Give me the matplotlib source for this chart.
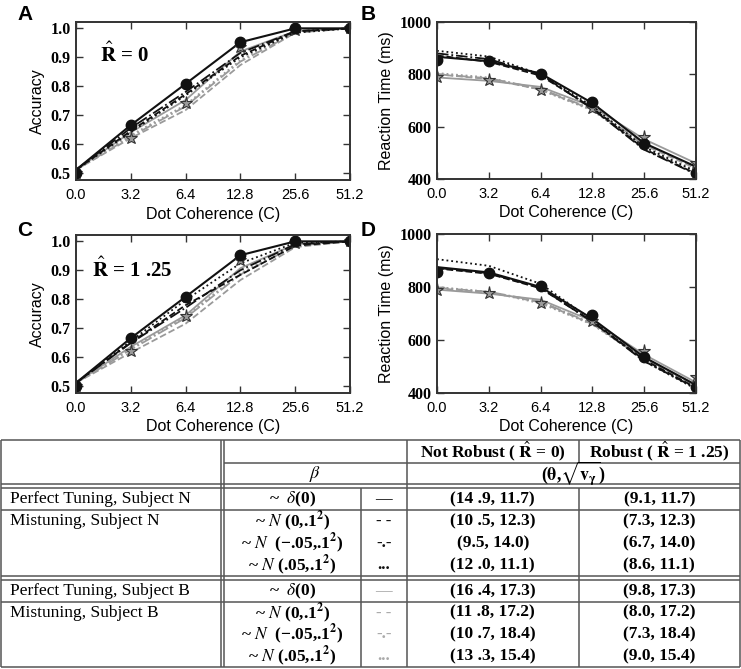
import matplotlib
matplotlib.use("Agg")
import matplotlib.pyplot as plt

plt.rcParams["mathtext.fontset"] = "stix"

W, H = 741, 669
SERIF = "Liberation Serif"
SANS = "Liberation Sans"

coherence = ["0.0", "3.2", "6.4", "12.8", "25.6", "51.2"]

# observed behaviour (markers)
acc_data_n = [0.50, 0.665, 0.808, 0.952, 1.00, 1.00]
acc_data_b = [0.50, 0.62, 0.74, 0.935, 0.995, 1.00]
rt_data_n = [855, 852, 803, 695, 535, 422]
rt_data_b = [790, 777, 740, 670, 560, 460]

# model curves, order: perfect, N(0,.1^2), N(-.05,.1^2), N(.05,.1^2)
acc_r0_n = [
    [0.51, 0.665, 0.808, 0.952, 1.00, 1.00],
    [0.51, 0.645, 0.772, 0.905, 0.99, 1.00],
    [0.51, 0.655, 0.78, 0.915, 0.99, 1.00],
    [0.51, 0.64, 0.768, 0.90, 0.985, 1.00],
]
acc_r0_b = [
    [0.51, 0.64, 0.752, 0.92, 0.99, 1.00],
    [0.51, 0.62, 0.717, 0.873, 0.985, 1.00],
    [0.51, 0.625, 0.73, 0.885, 0.985, 1.00],
    [0.51, 0.63, 0.735, 0.89, 0.99, 1.00],
]
acc_r125_n = [
    [0.51, 0.665, 0.808, 0.952, 1.00, 1.00],
    [0.51, 0.65, 0.779, 0.884, 0.985, 1.00],
    [0.51, 0.648, 0.77, 0.90, 0.99, 1.00],
    [0.51, 0.655, 0.797, 0.924, 0.995, 1.00],
]
acc_r125_b = [
    [0.51, 0.635, 0.744, 0.907, 0.99, 1.00],
    [0.51, 0.615, 0.715, 0.866, 0.98, 1.00],
    [0.51, 0.625, 0.735, 0.885, 0.985, 1.00],
    [0.51, 0.63, 0.74, 0.89, 0.99, 1.00],
]
rt_r0_n = [
    [867, 850, 803, 690, 537, 447],
    [872, 848, 795, 672, 515, 420],
    [880, 858, 800, 668, 512, 418],
    [890, 868, 800, 678, 522, 428],
]
rt_r0_b = [
    [788, 775, 752, 677, 552, 460],
    [800, 782, 742, 665, 530, 440],
    [800, 785, 745, 667, 535, 445],
    [805, 788, 740, 662, 522, 432],
]
rt_r125_n = [
    [875, 855, 800, 680, 535, 430],
    [870, 850, 795, 670, 525, 420],
    [872, 852, 797, 668, 520, 418],
    [905, 880, 812, 675, 520, 415],
]
rt_r125_b = [
    [790, 775, 752, 672, 545, 440],
    [795, 780, 742, 660, 530, 428],
    [797, 782, 745, 662, 532, 430],
    [800, 782, 738, 658, 528, 425],
]

line_styles = ["-", "--", "-.", ":"]
BLACK = "#111111"
GRAY = "#9a9a9a"

# table contents
row_labels = ["Perfect Tuning, Subject N", "Mistuning, Subject N", "", "",
              "Perfect Tuning, Subject B", "Mistuning, Subject B", "", ""]
beta_labels = [
    r"~  $\delta$(0)",
    r"~ $N$ (0,.1$^\mathbf{2}$)",
    r"~ $N$  (−.05,.1$^\mathbf{2}$)",
    r"~ $N$ (.05,.1$^\mathbf{2}$)",
] * 2
style_marks = ["—", "- -", "-.-", "..."] * 2
not_robust = ["(14 .9, 11.7)", "(10 .5, 12.3)", "(9.5, 14.0)", "(12 .0, 11.1)",
              "(16 .4, 17.3)", "(11 .8, 17.2)", "(10 .7, 18.4)", "(13 .3, 15.4)"]
robust = ["(9.1, 11.7)", "(7.3, 12.3)", "(6.7, 14.0)", "(8.6, 11.1)",
          "(9.8, 17.3)", "(8.0, 17.2)", "(7.3, 18.4)", "(9.0, 15.4)"]


def px_axes(fig, left, top, right, bottom):
    return fig.add_axes([left / W, 1 - bottom / H, (right - left) / W,
                         (bottom - top) / H])


def panel(ax, curves_n, curves_b, data_n, data_b, ylim, yticks, ylabel):
    x = range(len(coherence))
    for curve, ls in zip(curves_b, line_styles):
        ax.plot(x, curve, color=GRAY, ls=ls, lw=1.3, zorder=2)
    for curve, ls in zip(curves_n, line_styles):
        ax.plot(x, curve, color=BLACK, ls=ls, lw=1.3 if ls != "-" else 1.5,
                zorder=3)
    dots, = ax.plot(x, data_n, ls="none", marker="o", ms=7.5, color=BLACK,
                    zorder=5)
    stars, = ax.plot(x, data_b, ls="none", marker="*", ms=9.5, mfc=GRAY,
                     mec="#333333", mew=0.8, zorder=4)
    # markers sitting on the frame are cut by it, as in the original
    for mk in (dots, stars):
        mk.set_clip_path(ax.patch)
    ax.set_xlim(0, len(coherence) - 1)
    ax.set_ylim(*ylim)
    ax.set_xticks(list(x))
    ax.set_xticklabels(coherence, fontfamily=SANS, fontsize=10.5)
    ax.set_yticks(yticks)
    ax.set_yticklabels([f"{t:g}" if t >= 100 else f"{t:.1f}" for t in yticks],
                       fontfamily=SERIF, fontweight="bold", fontsize=11.5)
    ax.tick_params(direction="in", top=True, right=True, length=5, width=1,
                   color="#333333")
    ax.tick_params(axis="x", pad=6)
    ax.tick_params(axis="y", pad=4)
    for sp in ax.spines.values():
        sp.set_linewidth(1.4)
        sp.set_color("#333333")
        sp.set_zorder(6)
    ax.set_xlabel("Dot Coherence (C)", fontfamily=SANS, fontsize=11.5,
                  labelpad=3)
    ax.set_ylabel(ylabel, fontfamily=SANS, fontsize=11.5, labelpad=4)


fig = plt.figure(figsize=(W / 100, H / 100), dpi=100)

acc_ticks = [0.5, 0.6, 0.7, 0.8, 0.9, 1.0]
rt_ticks = [400, 600, 800, 1000]

ax_a = px_axes(fig, 76, 22, 350, 180)
panel(ax_a, acc_r0_n, acc_r0_b, acc_data_n, acc_data_b, (0.475, 1.022),
      acc_ticks, "Accuracy")
ax_b = px_axes(fig, 437, 22, 696, 179)
panel(ax_b, rt_r0_n, rt_r0_b, rt_data_n, rt_data_b, (400, 1000), rt_ticks,
      "Reaction Time (ms)")
ax_c = px_axes(fig, 76, 235, 350, 393)
panel(ax_c, acc_r125_n, acc_r125_b, acc_data_n, acc_data_b, (0.475, 1.022),
      acc_ticks, "Accuracy")
ax_d = px_axes(fig, 437, 234, 696, 393)
panel(ax_d, rt_r125_n, rt_r125_b, rt_data_n, rt_data_b, (400, 1000), rt_ticks,
      "Reaction Time (ms)")

ax_a.text(0.088, 0.79, r"$\hat{\mathbf{R}}$ = 0", transform=ax_a.transAxes,
          fontfamily=SERIF, fontweight="bold", fontsize=15, va="center")
ax_c.text(0.058, 0.78, r"$\hat{\mathbf{R}}$ = 1 .25", transform=ax_c.transAxes,
          fontfamily=SERIF, fontweight="bold", fontsize=15, va="center")

for letter, (lx, ly) in zip("ABCD", [(17, 14), (361, 14), (17, 231), (361, 231)]):
    fig.text(lx / W, 1 - ly / H, letter, fontfamily=SANS, fontweight="bold",
             fontsize=15, va="center", ha="left")

# ---- table ----
tab = fig.add_axes([0, 0, 1, 1])
tab.set_xlim(0, W)
tab.set_ylim(H, 0)
tab.axis("off")
LC = "#555555"
x_left, x_d1, x_d2, x_sty, x_nr, x_rb, x_right = 1, 220.5, 223.5, 361, 406.5, 579, 739.5
y_top, y_h1, y_h2, y_b1, y_end = 440, 463, 484, 488, 667

block_n = [488, 510, 532, 554, 576]
block_b = [580, 602, 623.7, 645.3, 667]

for y in [y_top, y_h2, y_b1, 510, 576, 580, 602, y_end]:
    tab.hlines(y, x_left, x_right, color=LC, lw=1.1)
tab.hlines(y_h1, x_d2, x_right, color=LC, lw=1.1)
for x in [x_left, x_d1, x_d2, x_nr, x_right]:
    tab.vlines(x, y_top, y_end, color=LC, lw=1.1)
tab.vlines(x_rb, y_top, y_h1, color=LC, lw=1.1)
tab.vlines(x_rb, y_b1, y_end, color=LC, lw=1.1)
tab.vlines(x_sty, y_b1, y_end, color=LC, lw=1.1)

hdr = dict(fontfamily=SERIF, fontweight="bold", fontsize=12.5, ha="center",
           va="center")
tab.text((x_nr + x_rb) / 2, (y_top + y_h1) / 2,
         r"Not Robust ( $\hat{\mathbf{R}}$ = 0)", **hdr)
tab.text((x_rb + x_right) / 2, (y_top + y_h1) / 2,
         r"Robust ( $\hat{\mathbf{R}}$ = 1 .25)", **hdr)
tab.text((x_d2 + x_nr) / 2, (y_h1 + y_h2) / 2, r"$\beta$", fontsize=13,
         ha="center", va="center")
tab.text((x_nr + x_right) / 2, (y_h1 + y_h2) / 2,
         r"($\mathbf{\theta}$,$\sqrt{\mathbf{v}_{\mathbf{\gamma}}}$)",
         fontfamily=SERIF, fontweight="bold", fontsize=13, ha="center",
         va="center")

centers = []
for blk in [block_n, block_b]:
    centers += [(a + b) / 2 for a, b in zip(blk[:-1], blk[1:])]

cell = dict(fontfamily=SERIF, fontsize=12.5, va="center")
for i, yc in enumerate(centers):
    tab.text(10, yc, row_labels[i], ha="left", **cell)
    tab.text((x_d2 + x_sty) / 2, yc, beta_labels[i], ha="center",
             fontweight="bold", **cell)
    tab.text((x_sty + x_nr) / 2, yc, style_marks[i], ha="center",
             fontweight="bold", color=BLACK if i < 4 else "#aaaaaa",
             fontfamily=SERIF, fontsize=12, va="center")
    tab.text((x_nr + x_rb) / 2, yc, not_robust[i], ha="center",
             fontweight="bold", **cell)
    tab.text((x_rb + x_right) / 2, yc, robust[i], ha="center",
             fontweight="bold", **cell)

fig.savefig("out.png", dpi=100)
